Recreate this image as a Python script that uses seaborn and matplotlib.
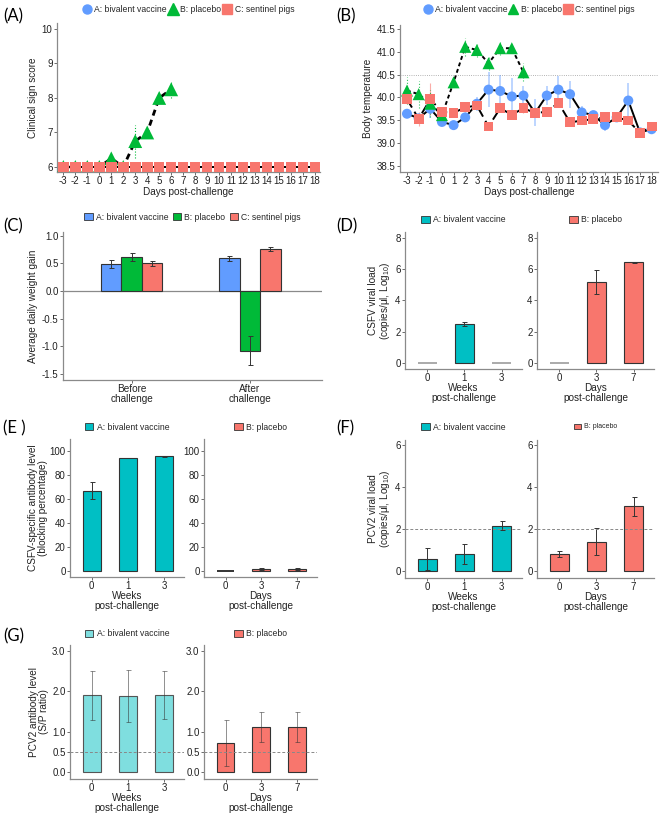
import numpy as np
import pandas as pd
import matplotlib
matplotlib.use("Agg")
import matplotlib.pyplot as plt
import seaborn as sns
from matplotlib.patches import Patch
from matplotlib.lines import Line2D
from matplotlib.container import BarContainer

sns.set_theme(style="white")
plt.rcParams["font.family"] = ["Liberation Sans", "DejaVu Sans"]
plt.rcParams["mathtext.default"] = "regular"
plt.rcParams["axes.unicode_minus"] = False

# ---------------- data ----------------
groups3 = ["A: bivalent vaccine", "B: placebo", "C: sentinel pigs"]
days = list(range(-3, 19))
days_b = list(range(-3, 8))

# (A) clinical sign score
clin_a = [6.0] * 22
clin_c = [6.0] * 22
days_b_clin = list(range(-3, 7))
clin_b = [6.0, 6.0, 6.0, 6.0, 6.25, 6.0, 6.75, 7.0, 8.0, 8.25]
clin_b_err = [0, 0, 0, 0, 0, 0, 0.48, 0, 0, 0.25]

# (B) body temperature
temp_a = [39.64, 39.54, 39.75, 39.46, 39.39, 39.56, 39.86, 40.17, 40.14, 40.02, 40.04,
          39.66, 40.04, 40.17, 40.07, 39.67, 39.61, 39.39, 39.56, 39.93, 39.23, 39.30]
temp_a_err = [0.05, 0.10, 0.20, 0.10, 0.03, 0.10, 0.15, 0.38, 0.35, 0.40, 0.20,
              0.30, 0.20, 0.30, 0.30, 0.15, 0.10, 0.12, 0.05, 0.38, 0.10, 0.10]
temp_b = [40.15, 40.07, 39.86, 39.61, 40.33, 41.11, 41.04, 40.75, 41.08, 41.08, 40.55]
temp_b_err = [0.30, 0.30, 0.30, 0.10, 0.10, 0.20, 0.15, 0.15, 0.15, 0.10, 0.20]
temp_c = [39.96, 39.53, 39.96, 39.68, 39.66, 39.78, 39.82, 39.36, 39.76, 39.62, 39.76,
          39.66, 39.68, 39.88, 39.45, 39.49, 39.52, 39.56, 39.56, 39.49, 39.22, 39.36]
temp_c_err = [0.10, 0.15, 0.35, 0.05, 0.05, 0.10, 0.05, 0.05, 0.05, 0.05, 0.10,
              0.05, 0.10, 0.05, 0.05, 0.05, 0.05, 0.05, 0.05, 0.05, 0.05, 0.05]
fever_line = 40.5

# (C) average daily weight gain
phases = ["Before\nchallenge", "After\nchallenge"]
adg_a = [0.49, 0.59]
adg_a_err = [0.07, 0.04]
adg_b = [0.62, -1.08]
adg_b_err = [0.07, 0.26]
adg_c = [0.50, 0.76]
adg_c_err = [0.04, 0.03]

# mini-panels
weeks = ["0", "1", "3"]
dpc = ["0", "3", "7"]
# (D) CSFV viral load
csfv_a = [0.0, 2.49, 0.0]
csfv_a_err = [0.0, 0.12, 0.0]
csfv_b = [0.0, 5.17, 6.43]
csfv_b_err = [0.0, 0.76, 0.03]
# (E) CSFV antibody
csfvab_a = [67.0, 94.5, 95.5]
csfvab_a_err = [7.0, 0.0, 0.3]
csfvab_b = [0.0, 1.5, 1.5]
csfvab_b_err = [0.0, 0.8, 0.8]
# (F) PCV2 viral load
pcv_a = [0.60, 0.84, 2.17]
pcv_a_err = [0.51, 0.48, 0.21]
pcv_b = [0.84, 1.42, 3.10]
pcv_b_err = [0.15, 0.65, 0.45]
pcv_cut = 2.0
# (G) PCV2 antibody
pcvab_a = [1.90, 1.88, 1.91]
pcvab_a_err = [0.60, 0.64, 0.59]
pcvab_b = [0.72, 1.12, 1.12]
pcvab_b_err = [0.57, 0.38, 0.38]
pcvab_cut = 0.5

BLUE = "#619CFF"
GREEN = "#00BA38"
RED = "#F8766D"
TEAL = "#00BFC4"
LTEAL = "#7FDEDF"
SPINE = "#8a8a8a"
TXT = "#222222"
TICKFS = 7
LABFS = 7.2
LEGFS = 6.2

W, H = 660, 815
fig = plt.figure(figsize=(W / 100, H / 100), dpi=100)
fig.patch.set_facecolor("white")


def pax(l, t, r, b):
    return fig.add_axes([l / W, 1 - b / H, (r - l) / W, (b - t) / H])


def style(ax, fs=TICKFS):
    sns.despine(ax=ax)
    for s in ("left", "bottom"):
        ax.spines[s].set_color(SPINE)
        ax.spines[s].set_linewidth(0.9)
    ax.tick_params(axis="both", length=2, width=0.6, color="#555555",
                   labelsize=fs, labelcolor=TXT, pad=1.2, bottom=True, left=True)
    ax.set_facecolor("white")
    ax.grid(False)


def panel_label(x, y, s):
    fig.text(x / W, 1 - y / H, s, fontsize=12, ha="left", va="center",
             family=["Lato", "DejaVu Sans"], color="black")


def top_legend(ax, handles, labels, y_px, fs=LEGFS, cs=0.6):
    pos = ax.get_position()
    xc = pos.x0 + pos.width / 2
    fig.legend(handles, labels, loc="center", bbox_to_anchor=(xc, 1 - y_px / H),
               ncol=len(handles), frameon=False, fontsize=fs, handlelength=1.0,
               handletextpad=0.35, columnspacing=cs, borderaxespad=0, borderpad=0)


# ---------------- (A) ----------------
axA = pax(57, 23, 320, 172)
sns.lineplot(x=days, y=clin_a, color="black", lw=1.4, ax=axA, zorder=2)
sns.lineplot(x=days, y=clin_c, color="black", lw=1.4, ax=axA, zorder=2)
axA.vlines(days_b_clin, np.array(clin_b) - np.array(clin_b_err),
           np.array(clin_b) + np.array(clin_b_err), color=GREEN, lw=0.8, ls=":", zorder=2)
sns.lineplot(x=days_b_clin, y=clin_b, color="black", lw=2.0, ax=axA, zorder=3,
             linestyle=(0, (2.2, 1.6)))
sns.scatterplot(x=days, y=clin_a, marker="o", s=45, color=BLUE, edgecolor="none", ax=axA, zorder=4)
sns.scatterplot(x=days_b_clin, y=clin_b, marker="^", s=100, color=GREEN, edgecolor="none", ax=axA, zorder=5)
sns.scatterplot(x=days, y=clin_c, marker="s", s=58, color=RED, edgecolor="none", ax=axA, zorder=6)
axA.set_xlim(-3.53, 18.42)
axA.set_ylim(5.855, 10.17)
axA.set_xticks(days)
axA.set_yticks([6, 7, 8, 9, 10])
style(axA)
axA.set_xlabel("Days post-challenge", fontsize=LABFS, color=TXT, labelpad=0.5)
axA.set_ylabel("Clinical sign score", fontsize=LABFS, color=TXT, labelpad=3)

hA = [Line2D([], [], marker="o", ls="none", color=BLUE, markersize=6.5),
      Line2D([], [], marker="^", ls="none", color=GREEN, markersize=8),
      Line2D([], [], marker="s", ls="none", color=RED, markersize=6.5)]
top_legend(axA, hA, groups3, 10, cs=0.2)
panel_label(3, 16, "(A)")

# ---------------- (B) ----------------
axB = pax(400, 25, 658, 172)
axB.axhline(fever_line, color="#9a9a9a", lw=0.6, ls=":", zorder=1)
axB.vlines(days, np.array(temp_a) - np.array(temp_a_err), np.array(temp_a) + np.array(temp_a_err),
           color=BLUE, alpha=0.45, lw=1.3, zorder=1)
axB.vlines(days, np.array(temp_c) - np.array(temp_c_err), np.array(temp_c) + np.array(temp_c_err),
           color=RED, alpha=0.6, lw=0.8, zorder=1)
axB.vlines(days_b, np.array(temp_b) - np.array(temp_b_err), np.array(temp_b) + np.array(temp_b_err),
           color=GREEN, alpha=0.8, lw=0.8, ls=":", zorder=1)
sns.lineplot(x=days, y=temp_a, color="black", lw=1.4, ax=axB, zorder=2)
sns.lineplot(x=days, y=temp_c, color="black", lw=1.4, ax=axB, zorder=2, linestyle=(0, (5, 2.5)))
sns.lineplot(x=days_b, y=temp_b, color="black", lw=1.4, ax=axB, zorder=2, linestyle=(0, (2, 1.5)))
sns.scatterplot(x=days, y=temp_a, marker="o", s=52, color=BLUE, edgecolor="none", ax=axB, zorder=4)
sns.scatterplot(x=days_b, y=temp_b, marker="^", s=75, color=GREEN, edgecolor="none", ax=axB, zorder=5)
sns.scatterplot(x=days, y=temp_c, marker="s", s=50, color=RED, edgecolor="none", ax=axB, zorder=6)
axB.set_xlim(-3.6, 18.55)
axB.set_ylim(38.36, 41.59)
axB.set_xticks(days)
axB.set_yticks([38.5, 39.0, 39.5, 40.0, 40.5, 41.0, 41.5])
axB.set_yticklabels(["38.5", "39.0", "39.5", "40.0", "40.5", "41.0", "41.5"])
style(axB)
axB.set_xlabel("Days post-challenge", fontsize=LABFS, color=TXT, labelpad=0.5)
axB.set_ylabel("Body temperature", fontsize=LABFS, color=TXT, labelpad=3)
hB = [Line2D([], [], marker="o", ls="none", color=BLUE, markersize=6.5),
      Line2D([], [], marker="^", ls="none", color=GREEN, markersize=7.5),
      Line2D([], [], marker="s", ls="none", color=RED, markersize=6.5)]
top_legend(axB, hB, groups3, 10, cs=0.2)
panel_label(336, 16, "(B)")

# ---------------- (C) ----------------
axC = pax(63, 232, 322, 380)
dfC = pd.DataFrame({
    "phase": phases * 3,
    "group": [groups3[0]] * 2 + [groups3[1]] * 2 + [groups3[2]] * 2,
    "val": adg_a + adg_b + adg_c,
})
sns.barplot(data=dfC, x="phase", y="val", hue="group", order=phases, hue_order=groups3,
            palette=[BLUE, GREEN, RED], width=0.52, errorbar=None, edgecolor="#333333",
            linewidth=0.8, ax=axC, legend=False, saturation=1, zorder=2)
errsC = [adg_a_err, adg_b_err, adg_c_err]
valsC = [adg_a, adg_b, adg_c]
bar_conts = [c for c in axC.containers if isinstance(c, BarContainer)]
for gi, cont in enumerate(bar_conts):
    xs = [p.get_x() + p.get_width() / 2 for p in cont.patches]
    axC.errorbar(xs, valsC[gi], yerr=errsC[gi], fmt="none", ecolor="#333333",
                 elinewidth=0.7, capsize=1.8, capthick=0.7, zorder=3)
axC.axhline(0, color=SPINE, lw=0.9, zorder=1)
axC.set_xlim(-0.58, 1.61)
axC.set_ylim(-1.61, 1.067)
axC.set_yticks([-1.5, -1.0, -0.5, 0.0, 0.5, 1.0])
axC.set_yticklabels(["-1.5", "-1.0", "-0.5", "0.0", "0.5", "1.0"])
style(axC)
axC.set_xlabel("")
axC.set_ylabel("Average daily weight gain", fontsize=LABFS, color=TXT, labelpad=3)
axC.tick_params(axis="x", labelsize=7.2)
for t in axC.get_xticklabels():
    t.set_linespacing(0.95)
hC = [Patch(facecolor=c, edgecolor="#333333", lw=0.6) for c in (BLUE, GREEN, RED)]
top_legend(axC, hC, groups3, 217, cs=0.5)
panel_label(3, 226, "(C)")


# ---------------- mini-panel helper ----------------
def mini(ax, cats, vals, errs, color, ylim, yticks, yticklabels, xlabel,
         zero_edge="#aaaaaa", ecolor="#333333", ealpha=1.0, edge="#333333"):
    sns.barplot(x=cats, y=vals, order=cats, color=color, width=0.5, errorbar=None,
                edgecolor=edge, linewidth=0.8, ax=ax, saturation=1, zorder=2)
    for p, v in zip(ax.patches, vals):
        if v == 0:
            p.set_edgecolor(zero_edge)
            p.set_linewidth(1.4)
    ex = [i for i, e in enumerate(errs) if e > 0]
    ax.errorbar(ex, [vals[i] for i in ex], yerr=[errs[i] for i in ex], fmt="none",
                ecolor=ecolor, alpha=ealpha, elinewidth=0.7, capsize=1.8, capthick=0.7, zorder=3)
    ax.set_xlim(-0.6, 2.55)
    ax.set_ylim(*ylim)
    ax.set_yticks(yticks)
    ax.set_yticklabels(yticklabels)
    style(ax)
    ax.set_xlabel(xlabel, fontsize=LABFS, color=TXT, labelpad=0, linespacing=0.95)
    ax.set_ylabel("")


WK = "Weeks\npost-challenge"
DY = "Days\npost-challenge"

# ---------------- (D) ----------------
axD1 = pax(405, 232, 522, 369)
axD2 = pax(537, 232, 654, 369)
yl = (-0.4, 8.38)
mini(axD1, weeks, csfv_a, csfv_a_err, TEAL, yl, [0, 2, 4, 6, 8], ["0", "2", "4", "6", "8"], WK)
mini(axD2, dpc, csfv_b, csfv_b_err, RED, yl, [0, 2, 4, 6, 8], ["0", "2", "4", "6", "8"], DY)
axD1.set_ylabel("CSFV viral load\n(copies/μl, Log$_{10}$)", fontsize=LABFS, color=TXT,
                labelpad=2, linespacing=1.05)
top_legend(axD1, [Patch(facecolor=TEAL, edgecolor="#333333", lw=0.6)], ["A: bivalent vaccine"], 220)
top_legend(axD2, [Patch(facecolor=RED, edgecolor="#333333", lw=0.6)], ["B: placebo"], 220)
panel_label(336, 226, "(D)")

# ---------------- (E) ----------------
axE1 = pax(70, 439, 184, 577)
axE2 = pax(204, 439, 317, 577)
yl = (-5, 110)
yt = [0, 20, 40, 60, 80, 100]
ytl = [str(v) for v in yt]
mini(axE1, weeks, csfvab_a, csfvab_a_err, TEAL, yl, yt, ytl, WK)
mini(axE2, dpc, csfvab_b, csfvab_b_err, RED, yl, yt, ytl, DY, zero_edge="#333333")
axE1.set_ylabel("CSFV-specific antibody level\n(blocking percentage)", fontsize=LABFS, color=TXT,
                labelpad=1, linespacing=1.05)
top_legend(axE1, [Patch(facecolor=TEAL, edgecolor="#333333", lw=0.6)], ["A: bivalent vaccine"], 427)
top_legend(axE2, [Patch(facecolor=RED, edgecolor="#333333", lw=0.6)], ["B: placebo"], 427)
panel_label(3, 428, "(E )")

# ---------------- (F) ----------------
axF1 = pax(405, 440, 522, 578)
axF2 = pax(537, 440, 654, 578)
yl = (-0.31, 6.24)
for ax_, cats, v, e, c, xl in ((axF1, weeks, pcv_a, pcv_a_err, TEAL, WK),
                               (axF2, dpc, pcv_b, pcv_b_err, RED, DY)):
    mini(ax_, cats, v, e, c, yl, [0, 2, 4, 6], ["0", "2", "4", "6"], xl)
    ax_.axhline(pcv_cut, color="#888888", lw=0.7, ls=(0, (3, 2)), zorder=4)
axF1.set_ylabel("PCV2 viral load\n(copies/μl, Log$_{10}$)", fontsize=LABFS, color=TXT,
                labelpad=2, linespacing=1.05)
top_legend(axF1, [Patch(facecolor=TEAL, edgecolor="#333333", lw=0.6)], ["A: bivalent vaccine"], 427)
top_legend(axF2, [Patch(facecolor=RED, edgecolor="#333333", lw=0.6)], ["B: placebo"], 427, fs=5.0)
panel_label(336, 428, "(F)")

# ---------------- (G) ----------------
axG1 = pax(70, 645, 184, 779)
axG2 = pax(204, 645, 317, 779)
yl = (-0.17, 3.15)
yt = [0.0, 0.5, 1.0, 2.0, 3.0]
ytl = ["0.0", "0.5", "1.0", "2.0", "3.0"]
mini(axG1, weeks, pcvab_a, pcvab_a_err, LTEAL, yl, yt, ytl, WK, ealpha=0.55, edge="#555555")
mini(axG2, dpc, pcvab_b, pcvab_b_err, RED, yl, yt, ytl, DY, ealpha=0.55)
for ax_ in (axG1, axG2):
    ax_.axhline(pcvab_cut, color="#888888", lw=0.7, ls=(0, (3, 2)), zorder=4)
    ax_.xaxis.label.set_linespacing(0.9)
axG1.set_ylabel("PCV2 antibody level\n(S/P ratio)", fontsize=LABFS, color=TXT,
                labelpad=2, linespacing=1.05)
top_legend(axG1, [Patch(facecolor=LTEAL, edgecolor="#333333", lw=0.6)], ["A: bivalent vaccine"], 634)
top_legend(axG2, [Patch(facecolor=RED, edgecolor="#333333", lw=0.6)], ["B: placebo"], 634)
panel_label(3, 636, "(G)")

fig.savefig("out.png", dpi=100, facecolor="white")
